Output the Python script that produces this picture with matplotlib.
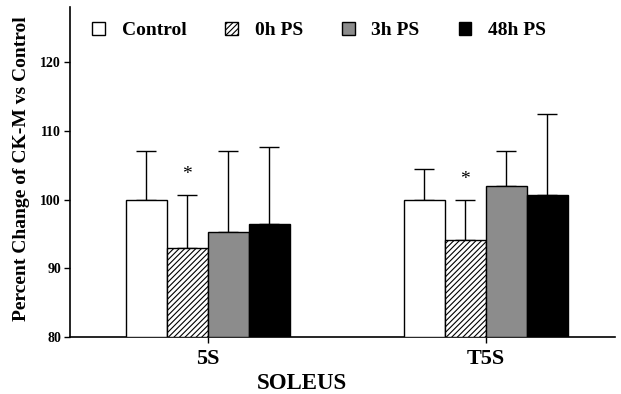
import matplotlib
matplotlib.use("Agg")
import matplotlib.pyplot as plt
import matplotlib.patches as mpatches
import numpy as np

plt.rcParams.update({
    "font.family": ["Liberation Serif", "DejaVu Serif"],
    "font.weight": "bold",
    "hatch.linewidth": 0.8,
})

# ---------------------------------------------------------------------------
# Data
# ---------------------------------------------------------------------------
muscles = ["5S", "T5S"]
groups = ["Control", "0h PS", "3h PS", "48h PS"]
means = {
    "Control": [100.0, 100.0],
    "0h PS":   [92.9, 94.1],
    "3h PS":   [95.3, 102.0],
    "48h PS":  [96.5, 100.6],
}
err_top = {
    "Control": [107.1, 104.4],
    "0h PS":   [100.7, 100.0],
    "3h PS":   [107.1, 107.0],
    "48h PS":  [107.7, 112.4],
}
significant = {"0h PS": [True, True]}

styles = {
    "Control": dict(facecolor="white", hatch=None),
    "0h PS":   dict(facecolor="white", hatch="//////"),
    "3h PS":   dict(facecolor="#8c8c8c", hatch=None),
    "48h PS":  dict(facecolor="black", hatch=None),
}

# ---------------------------------------------------------------------------
# Plot
# ---------------------------------------------------------------------------
fig = plt.figure(figsize=(6.21, 3.94), dpi=100)
ax = fig.add_axes([0.1127, 0.1447, 0.877, 0.8373])

x = np.arange(len(muscles))
w = 0.1475
for i, g in enumerate(groups):
    pos = x + (i - 1.5) * w
    vals = np.array(means[g])
    ax.bar(pos, vals - 80, bottom=80, width=w, edgecolor="black",
           linewidth=1.0, zorder=3, **styles[g])
    up = np.array(err_top[g]) - vals
    ax.errorbar(pos, vals, yerr=[np.zeros_like(up), up], fmt="none",
                ecolor="black", elinewidth=1.0, capsize=7, capthick=1.0,
                zorder=2)
    for j, s in enumerate(significant.get(g, [False] * len(muscles))):
        if s:
            ax.text(pos[j], err_top[g][j] + 1.7, "*", ha="center",
                    va="bottom", fontsize=14, fontweight="normal")

ax.set_ylim(80, 128)
ax.set_xlim(-0.496, 1.464)
ax.set_yticks([80, 90, 100, 110, 120])
ax.set_xticks(x)
ax.set_xticklabels(muscles, fontsize=16, fontweight="bold")
ax.tick_params(axis="y", direction="out", length=4.5, labelsize=10, width=1,
               pad=2)
ax.tick_params(axis="x", direction="out", length=4, width=1, pad=5)
for lab in ax.get_yticklabels():
    lab.set_fontweight("bold")
ax.spines[["top", "right"]].set_visible(False)
ax.spines["left"].set_linewidth(1.2)
ax.spines["bottom"].set_linewidth(1.2)

ax.set_ylabel("Percent Change of CK-M vs Control", fontsize=14,
              fontweight="bold")
ax.yaxis.set_label_coords(-0.074, 0.51)
ax.set_xlabel("SOLEUS", fontsize=16.5, fontweight="bold")
ax.xaxis.set_label_coords(0.426, -0.108)

handles = [mpatches.Patch(edgecolor="black", linewidth=1.0, label=g,
                          **styles[g]) for g in groups]
ax.legend(handles=handles, ncol=4, loc="upper left",
          bbox_to_anchor=(0.0404, 0.956), frameon=False,
          borderaxespad=0, borderpad=0,
          handlelength=0.65, handleheight=0.65, handletextpad=0.87,
          columnspacing=2.0, prop={"weight": "bold", "size": 14})

fig.savefig("out.png", dpi=100)
